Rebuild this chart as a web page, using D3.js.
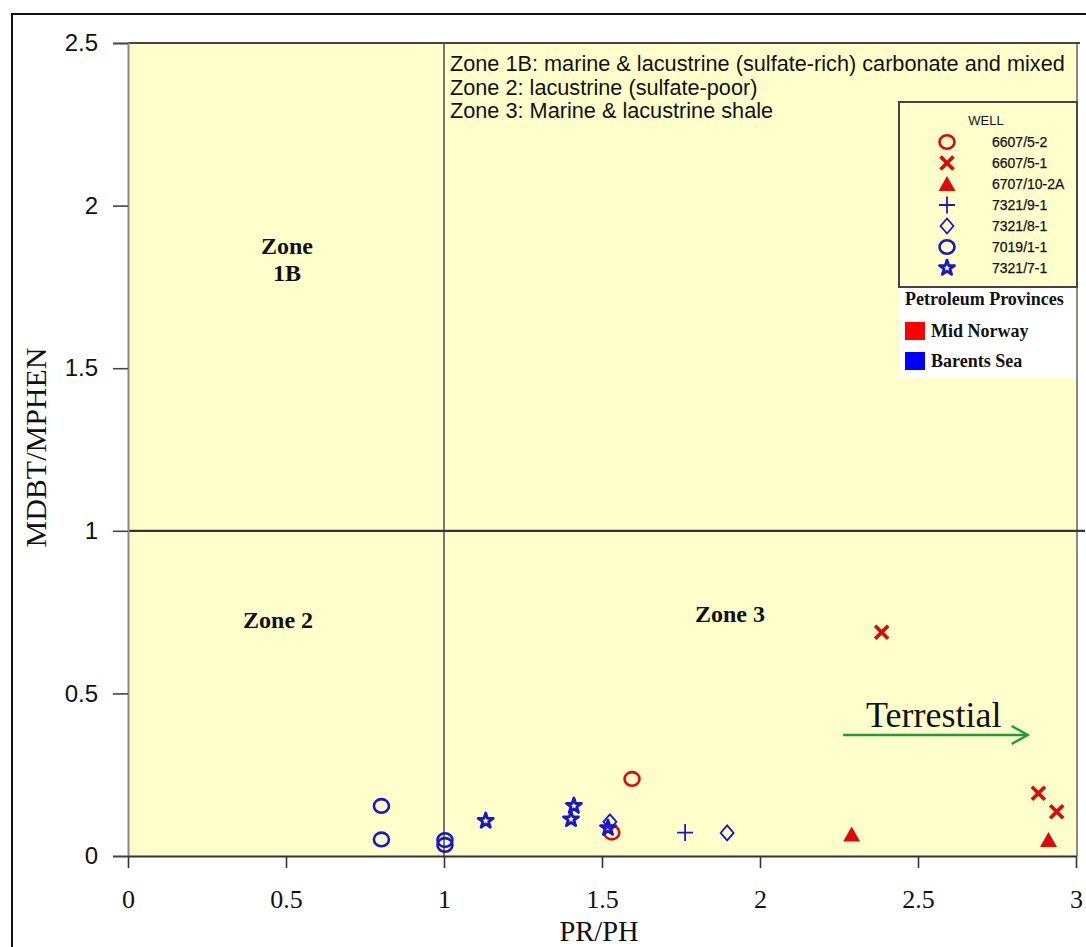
<!DOCTYPE html>
<html>
<head>
<meta charset="utf-8">
<script src="https://cdn.jsdelivr.net/npm/d3@7"></script>
<style>
  body { margin: 0; background: #fff; }
  svg { display: block; }
</style>
</head>
<body>
<svg id="chart" width="1086" height="947"></svg>
<script>
// ---- data ----------------------------------------------------------------
const wells = ["6607/5-2", "6607/5-1", "6707/10-2A", "7321/9-1", "7321/8-1", "7019/1-1", "7321/7-1"];
const wellShapes = ["circle", "cross", "triangle", "plus", "diamond", "circle", "star"];
const wellProvince = ["Mid Norway", "Mid Norway", "Mid Norway", "Barents Sea", "Barents Sea", "Barents Sea", "Barents Sea"];

const provinces = ["Mid Norway", "Barents Sea"];
const provinceMarkerColors = ["#dc0a0a", "#1818c8"];
const provinceSwatchColors = ["#ff0000", "#0000ff"];

// one entry per sample: well, PR/PH, MDBT/MPHEN
const sampleWell = [
  "6607/5-2", "6607/5-2",
  "6607/5-1", "6607/5-1", "6607/5-1",
  "6707/10-2A", "6707/10-2A",
  "7321/9-1",
  "7321/8-1", "7321/8-1",
  "7019/1-1", "7019/1-1", "7019/1-1", "7019/1-1",
  "7321/7-1", "7321/7-1", "7321/7-1", "7321/7-1"
];
const samplePRPH = [
  1.595, 1.531,
  2.385, 2.881, 2.939,
  2.290, 2.913,
  1.763,
  1.525, 1.896,
  0.802, 0.802, 1.003, 1.003,
  1.132, 1.411, 1.402, 1.519
];
const sampleMDBT = [
  0.237, 0.072,
  0.688, 0.193, 0.136,
  0.066, 0.049,
  0.072,
  0.105, 0.071,
  0.154, 0.051, 0.049, 0.034,
  0.108, 0.154, 0.113, 0.086
];

const xTicks = [0, 0.5, 1, 1.5, 2, 2.5, 3];
const yTicks = [0, 0.5, 1, 1.5, 2, 2.5];

// zone boundaries (PR/PH = 1, MDBT/MPHEN = 1)
const zoneSplitX = 1;
const zoneSplitY = 1;

const zoneNotes = [
  "Zone 1B: marine & lacustrine (sulfate-rich) carbonate and mixed",
  "Zone 2: lacustrine (sulfate-poor)",
  "Zone 3: Marine & lacustrine shale"
];
// zone labels: lines, centre PR/PH, baseline MDBT/MPHEN
const zoneLabels = [
  { lines: ["Zone", "1B"], x: 0.503, y: 1.85 },
  { lines: ["Zone 2"], x: 0.475, y: 0.70 },
  { lines: ["Zone 3"], x: 1.905, y: 0.72 }
];
const trendLabel = "Terrestial";
const trendFrom = [2.263, 0.372];
const trendTo = [2.847, 0.372];

// ---- layout --------------------------------------------------------------
const svg = d3.select("#chart");
const x = d3.scaleLinear().domain([0, 3]).range([128, 1076]);
const y = d3.scaleLinear().domain([0, 2.5]).range([856, 43]);

const serif = "'Liberation Serif', 'Times New Roman', serif";
const sans = "'Liberation Sans', Arial, Helvetica, sans-serif";

// outer frame
svg.append("rect")
  .attr("x", 12).attr("y", 14).attr("width", 1100).attr("height", 1000)
  .attr("fill", "#fff").attr("stroke", "#111").attr("stroke-width", 2);

// plot background
svg.append("rect")
  .attr("x", x(0)).attr("y", y(2.5))
  .attr("width", x(3) - x(0)).attr("height", y(0) - y(2.5))
  .attr("fill", "#ffffcc");

// right border
svg.append("line")
  .attr("x1", x(3) + 1).attr("x2", x(3) + 1).attr("y1", y(2.5)).attr("y2", y(0))
  .attr("stroke", "#8a8a80").attr("stroke-width", 2);
// top border
svg.append("line")
  .attr("x1", x(0)).attr("x2", x(3) + 4).attr("y1", y(2.5)).attr("y2", y(2.5))
  .attr("stroke", "#444").attr("stroke-width", 2);

// zone dividers
svg.append("line")
  .attr("x1", x(zoneSplitX)).attr("x2", x(zoneSplitX))
  .attr("y1", y(2.5)).attr("y2", y(0))
  .attr("stroke", "#555").attr("stroke-width", 1.6);
svg.append("line")
  .attr("x1", x(0)).attr("x2", 1085)
  .attr("y1", y(zoneSplitY)).attr("y2", y(zoneSplitY))
  .attr("stroke", "#333").attr("stroke-width", 2.2);

// axes
const yAxis = svg.append("g")
  .attr("transform", `translate(${x(0)},0)`)
  .call(d3.axisLeft(y).tickValues(yTicks).tickFormat(d3.format("")).tickSize(15).tickPadding(15));
yAxis.select(".domain").attr("stroke", "#888").attr("stroke-width", 2);
yAxis.selectAll(".tick line").attr("stroke", "#444").attr("stroke-width", 1.6);
yAxis.selectAll(".tick text")
  .attr("font-family", sans).attr("font-size", 24).attr("fill", "#111");

const xAxis = svg.append("g")
  .attr("transform", `translate(0,${y(0)})`)
  .call(d3.axisBottom(x).tickValues(xTicks).tickFormat(d3.format("")).tickSize(12).tickSizeOuter(0));
xAxis.select(".domain").attr("stroke", "#333").attr("stroke-width", 2);
xAxis.selectAll(".tick line").attr("stroke", "#333").attr("stroke-width", 1.6);
xAxis.selectAll(".tick text")
  .attr("font-family", serif).attr("font-size", 26).attr("fill", "#111")
  .attr("y", 52).attr("dy", 0);

// axis titles
svg.append("text")
  .attr("x", (x(0) + x(3)) / 2 - 3).attr("y", 941)
  .attr("text-anchor", "middle")
  .attr("font-family", serif).attr("font-size", 28.5).attr("fill", "#111")
  .text("PR/PH");
svg.append("text")
  .attr("transform", `translate(46,${(y(0) + y(2.5)) / 2 - 2}) rotate(-90)`)
  .attr("text-anchor", "middle")
  .attr("font-family", serif).attr("font-size", 30).attr("fill", "#111")
  .text("MDBT/MPHEN");

// zone description block
svg.append("g").selectAll("text")
  .data(zoneNotes)
  .join("text")
  .attr("x", x(zoneSplitX) + 6)
  .attr("y", (d, i) => 71 + i * 23.5)
  .attr("font-family", sans).attr("font-size", 21.7).attr("fill", "#111")
  .text(d => d);

// zone labels
zoneLabels.forEach(z => {
  svg.append("text")
    .attr("x", x(z.x)).attr("y", y(z.y))
    .attr("text-anchor", "middle")
    .attr("font-family", serif).attr("font-weight", "bold").attr("font-size", 24).attr("fill", "#111")
    .selectAll("tspan")
    .data(z.lines)
    .join("tspan")
    .attr("x", x(z.x))
    .attr("dy", (d, i) => i === 0 ? 0 : 27)
    .text(d => d);
});

// trend arrow
const green = "#1e9a3c";
svg.append("line")
  .attr("x1", x(trendFrom[0])).attr("x2", x(trendTo[0]))
  .attr("y1", y(trendFrom[1])).attr("y2", y(trendTo[1]))
  .attr("stroke", green).attr("stroke-width", 2.4);
svg.append("path")
  .attr("d", `M${x(trendTo[0]) - 16},${y(trendTo[1]) - 9} L${x(trendTo[0])},${y(trendTo[1])} L${x(trendTo[0]) - 16},${y(trendTo[1]) + 9}`)
  .attr("fill", "none").attr("stroke", green).attr("stroke-width", 2.4);
svg.append("text")
  .attr("x", x(trendFrom[0]) + 23).attr("y", y(trendFrom[1]) - 8)
  .attr("font-family", serif).attr("font-size", 36).attr("fill", "#111")
  .text(trendLabel);

// ---- symbols -------------------------------------------------------------
function drawSymbol(sel, shape, color) {
  if (shape === "circle") {
    sel.append("ellipse").attr("rx", 7.5).attr("ry", 6.8)
      .attr("fill", "none").attr("stroke", color).attr("stroke-width", 2.6);
  } else if (shape === "cross") {
    sel.append("path").attr("d", "M-6.5,-6.5L6.5,6.5M-6.5,6.5L6.5,-6.5")
      .attr("fill", "none").attr("stroke", color).attr("stroke-width", 3.8);
  } else if (shape === "triangle") {
    sel.append("path").attr("d", "M0,-8L8.5,7L-8.5,7Z").attr("fill", color);
  } else if (shape === "plus") {
    sel.append("path").attr("d", "M-8,0L8,0M0,-8.5L0,8.5")
      .attr("fill", "none").attr("stroke", color).attr("stroke-width", 1.8);
  } else if (shape === "diamond") {
    sel.append("path").attr("d", "M0,-7.5L6.5,0L0,7.5L-6.5,0Z")
      .attr("fill", "none").attr("stroke", color).attr("stroke-width", 1.8);
  } else if (shape === "star") {
    sel.append("path").attr("d", d3.symbol(d3.symbolStar, 70)())
      .attr("fill", "none").attr("stroke", color).attr("stroke-width", 2.8)
      .attr("stroke-linejoin", "round");
  }
}
function wellStyle(w) {
  const i = wells.indexOf(w);
  const color = provinceMarkerColors[provinces.indexOf(wellProvince[i])];
  return { shape: wellShapes[i], color };
}

const points = svg.append("g");
sampleWell.forEach((w, i) => {
  const st = wellStyle(w);
  const g = points.append("g")
    .attr("transform", `translate(${x(samplePRPH[i])},${y(sampleMDBT[i])})`);
  drawSymbol(g, st.shape, st.color);
});

// ---- legend --------------------------------------------------------------
const lg = svg.append("g");
lg.append("rect")
  .attr("x", 899).attr("y", 102).attr("width", 178).attr("height", 185)
  .attr("fill", "#ffffcc").attr("stroke", "#444").attr("stroke-width", 2);
lg.append("text")
  .attr("x", 986).attr("y", 125).attr("text-anchor", "middle")
  .attr("font-family", sans).attr("font-size", 13).attr("fill", "#111")
  .text("WELL");
wells.forEach((w, i) => {
  const cy = 142 + i * 21;
  const st = wellStyle(w);
  const g = lg.append("g").attr("transform", `translate(947,${cy})`);
  drawSymbol(g, st.shape, st.color);
  lg.append("text")
    .attr("x", 992).attr("y", cy + 5)
    .attr("font-family", sans).attr("font-size", 14).attr("fill", "#111")
    .attr("stroke", "#111").attr("stroke-width", 0.25)
    .text(w);
});

// province key
lg.append("rect")
  .attr("x", 900).attr("y", 288).attr("width", 176).attr("height", 90)
  .attr("fill", "#fff");
lg.append("text")
  .attr("x", 905).attr("y", 305)
  .attr("font-family", serif).attr("font-weight", "bold").attr("font-size", 18).attr("fill", "#111")
  .text("Petroleum Provinces");
provinces.forEach((p, i) => {
  const top = 322 + i * 30;
  lg.append("rect")
    .attr("x", 905).attr("y", top).attr("width", 20).attr("height", 18)
    .attr("fill", provinceSwatchColors[i]);
  lg.append("text")
    .attr("x", 931).attr("y", top + 15)
    .attr("font-family", serif).attr("font-weight", "bold").attr("font-size", 18).attr("fill", "#111")
    .text(p);
});
</script>
</body>
</html>
